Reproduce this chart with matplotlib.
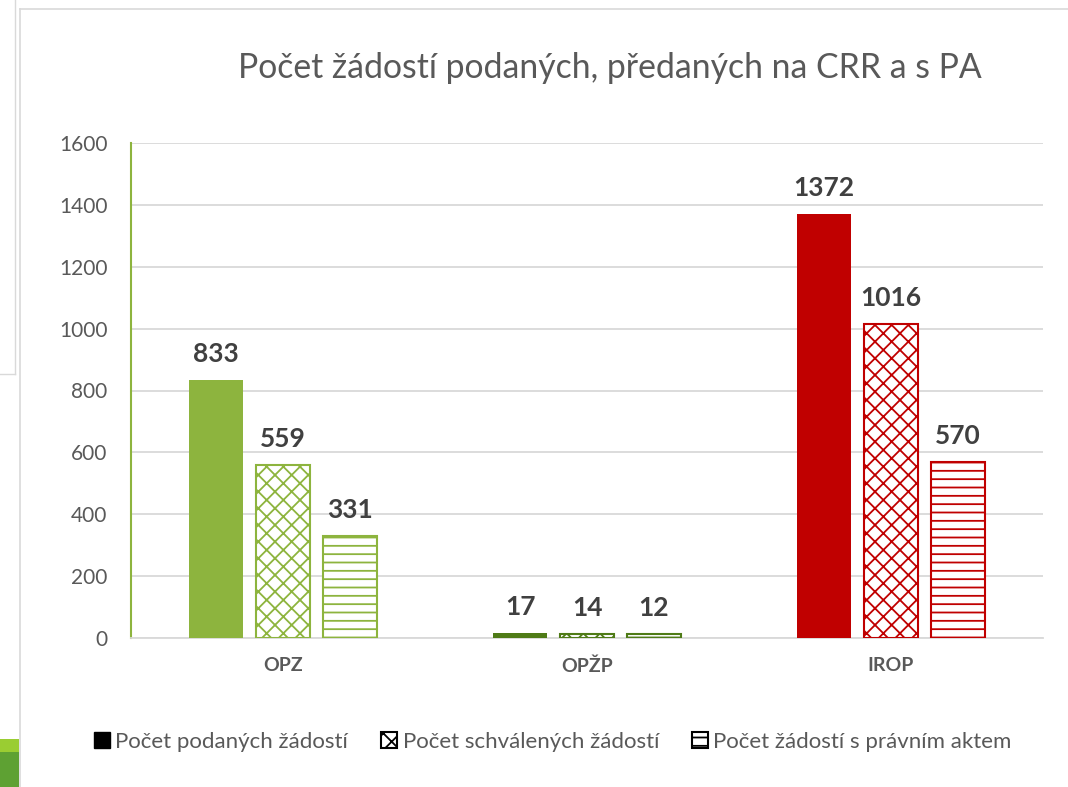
import matplotlib
matplotlib.use("Agg")
import matplotlib.pyplot as plt
from matplotlib.patches import Patch, Rectangle
import numpy as np

# data
categories = ["OPZ", "OPŽP", "IROP"]
series_names = ["Počet podaných žádostí", "Počet schválených žádostí", "Počet žádostí s právním aktem"]
podane = [833, 17, 1372]
schvalene = [559, 14, 1016]
pravni_akt = [331, 12, 570]
title = "Počet žádostí podaných, předaných na CRR a s PA"

cat_colors = ["#8DB43E", "#4F7B17", "#C00000"]
hatches = [None, "xx", "--"]
label_color = "#404040"
text_color = "#595959"

plt.rcParams["font.family"] = ["Lato", "DejaVu Sans"]
plt.rcParams["hatch.linewidth"] = 1.3

fig = plt.figure(figsize=(10.68, 7.87), dpi=100)
ax = fig.add_axes([131 / 1068, 149 / 787, 912 / 1068, 495 / 787])

x = np.arange(len(categories))
width = 0.178
offsets = [-0.22, 0.0, 0.22]
for s, vals in enumerate([podane, schvalene, pravni_akt]):
    for i, v in enumerate(vals):
        c = cat_colors[i]
        if hatches[s] is None:
            ax.bar(x[i] + offsets[s], v, width, color=c, edgecolor=c, linewidth=0, zorder=3)
        else:
            ax.bar(x[i] + offsets[s], v, width, facecolor="white", edgecolor=c,
                   hatch=hatches[s], linewidth=1.5, zorder=3)
        ax.annotate(str(v), (x[i] + offsets[s], v), xytext=(0, 10), textcoords="offset points",
                    ha="center", va="bottom", fontsize=19, fontweight="bold", color=label_color)

ax.set_xlim(-0.5, 2.5)
ax.set_ylim(0, 1600)
ax.set_yticks(range(0, 1601, 200))
ax.set_xticks(x)
ax.set_xticklabels(categories, fontsize=14, fontweight="bold", color=text_color)
ax.tick_params(axis="y", labelsize=15, colors=text_color, length=0, pad=17)
ax.tick_params(axis="x", length=0, pad=14)
ax.grid(axis="y", color="#D9D9D9", linewidth=1.3, zorder=0)
ax.set_axisbelow(True)
for sp in ["top", "right"]:
    ax.spines[sp].set_visible(False)
ax.spines["bottom"].set_color("#D9D9D9")
ax.spines["bottom"].set_linewidth(1.3)
ax.spines["left"].set_color(cat_colors[0])
ax.spines["left"].set_linewidth(1.5)

fig.text(610 / 1068, 1 - 68 / 787, title, ha="center", va="center", fontsize=24.3,
         color=text_color)

handles = [
    Patch(facecolor="black", edgecolor="black"),
    Patch(facecolor="white", edgecolor="black", hatch="xx", linewidth=1.5),
    Patch(facecolor="white", edgecolor="black", hatch="--", linewidth=1.5),
]
fig.legend(handles, series_names, loc="center", bbox_to_anchor=(553 / 1068, 1 - 742 / 787),
           ncol=3, frameon=False, fontsize=16, handlelength=0.7, handleheight=0.7,
           handletextpad=0.25, columnspacing=1.5, labelcolor=text_color)

# screenshot surroundings
fig.add_artist(plt.Line2D([20 / 1068, 20 / 1068], [0, 1 - 9 / 787], transform=fig.transFigure, color="#D9D9D9", lw=1.2))
fig.add_artist(plt.Line2D([20 / 1068, 1], [1 - 9 / 787, 1 - 9 / 787], transform=fig.transFigure, color="#D9D9D9", lw=1.2))
fig.add_artist(plt.Line2D([15 / 1068, 15 / 1068], [1 - 374 / 787, 1], transform=fig.transFigure, color="#D9D9D9", lw=1.0))
fig.add_artist(plt.Line2D([0, 15 / 1068], [1 - 374 / 787, 1 - 374 / 787], transform=fig.transFigure, color="#D9D9D9", lw=1.0))
fig.add_artist(Rectangle((0, 0), 19 / 1068, 35 / 787, transform=fig.transFigure, color="#5EA133", lw=0))
fig.add_artist(Rectangle((0, 35 / 787), 19 / 1068, 13 / 787, transform=fig.transFigure, color="#9ACD32", lw=0))

fig.savefig("out.png", dpi=100)
